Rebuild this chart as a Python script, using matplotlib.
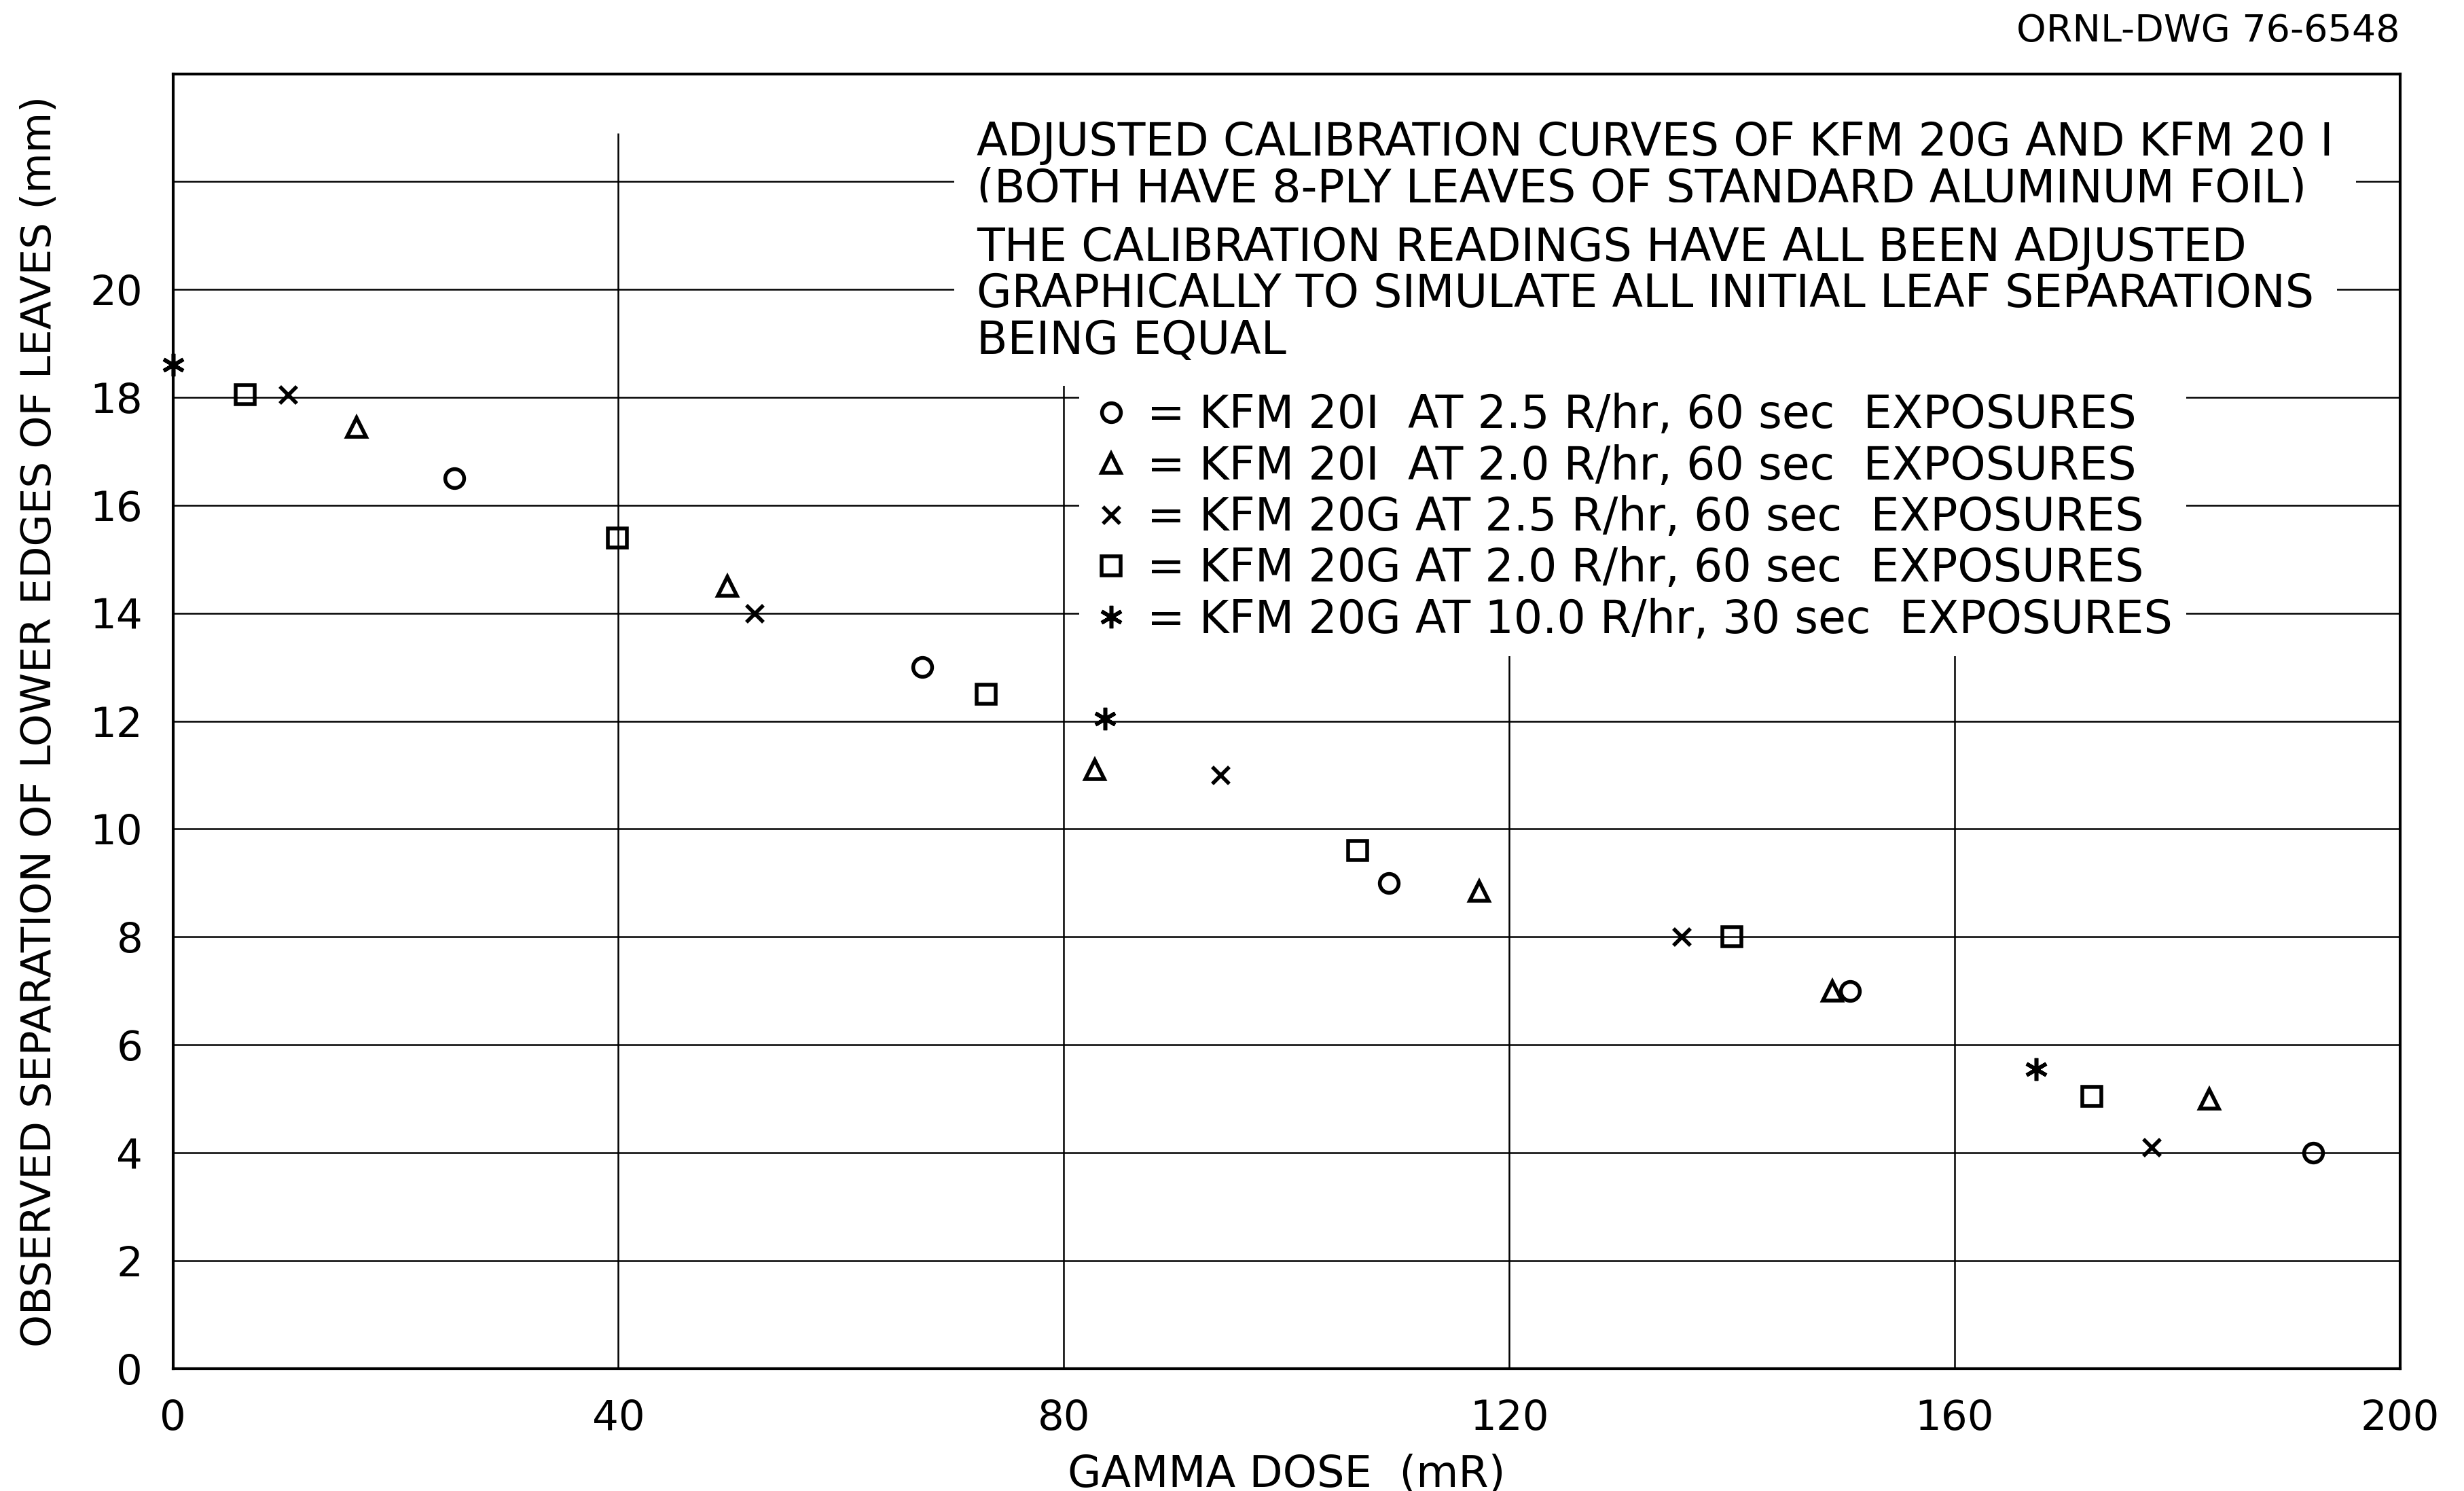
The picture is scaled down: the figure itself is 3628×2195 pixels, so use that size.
import matplotlib
matplotlib.use("Agg")
import matplotlib.pyplot as plt

plt.rcParams["font.family"] = ["DejaVu Sans"]

# KFM 20I at 2.5 R/hr, 60 sec
circ_x = [25.3, 67.3, 109.2, 150.6, 192.2]
circ_y = [16.5, 13.0, 9.0, 7.0, 4.0]
# KFM 20I at 2.0 R/hr, 60 sec
tri_x = [16.5, 49.8, 82.8, 117.3, 149.0, 182.9]
tri_y = [17.45, 14.5, 11.1, 8.85, 7.0, 5.0]
# KFM 20G at 2.5 R/hr, 60 sec
cross_x = [10.3, 52.2, 94.1, 135.5, 177.7]
cross_y = [18.05, 14.0, 11.0, 8.0, 4.1]
# KFM 20G at 2.0 R/hr, 60 sec
sq_x = [6.5, 39.9, 73.0, 106.4, 140.0, 172.3]
sq_y = [18.05, 15.4, 12.5, 9.6, 8.0, 5.05]
# KFM 20G at 10.0 R/hr, 30 sec
star_x = [0.0, 83.7, 167.3]
star_y = [18.6, 12.05, 5.55]

x_ticks = [0, 40, 80, 120, 160, 200]
y_ticks = [0, 2, 4, 6, 8, 10, 12, 14, 16, 18, 20]
y_grid = [2, 4, 6, 8, 10, 12, 14, 16, 18, 20, 22]

series_labels = [
    "= KFM 20I  AT 2.5 R/hr, 60 sec  EXPOSURES",
    "= KFM 20I  AT 2.0 R/hr, 60 sec  EXPOSURES",
    "= KFM 20G AT 2.5 R/hr, 60 sec  EXPOSURES",
    "= KFM 20G AT 2.0 R/hr, 60 sec  EXPOSURES",
    "= KFM 20G AT 10.0 R/hr, 30 sec  EXPOSURES",
]
note_top = "ADJUSTED CALIBRATION CURVES OF KFM 20G AND KFM 20 I\n(BOTH HAVE 8-PLY LEAVES OF STANDARD ALUMINUM FOIL)"
note_mid = ("THE CALIBRATION READINGS HAVE ALL BEEN ADJUSTED\n"
            "GRAPHICALLY TO SIMULATE ALL INITIAL LEAF SEPARATIONS\n"
            "BEING EQUAL")

FS = 24
fig = plt.figure(figsize=(18.14, 10.975), dpi=200)
ax = fig.add_axes([0.0702, 0.0822, 0.9038, 0.8683])
ax.set_xlim(0, 200)
ax.set_ylim(0, 24)

# grid
for yv in y_grid:
    ax.axhline(yv, color="black", lw=0.9, zorder=1)
ax.vlines(x_ticks[1:-1], 0, 22.9, color="black", lw=0.9, zorder=1)

mk = dict(ls="none", color="black", mfc="none", mew=2.0, zorder=4, clip_on=False)
h1, = ax.plot(circ_x, circ_y, marker="o", ms=10, **mk)
h2, = ax.plot(tri_x, tri_y, marker="^", ms=10, **mk)
h3, = ax.plot(cross_x, cross_y, marker="x", ms=9, **mk)
h4, = ax.plot(sq_x, sq_y, marker="s", ms=10, **mk)
h5, = ax.plot(star_x, star_y, marker=(6, 2, 0), ms=12, **mk)

leg = ax.legend([h1, h2, h3, h4, h5], series_labels, loc="upper left",
                bbox_to_anchor=(0.407, 0.764), fontsize=FS, frameon=True,
                handlelength=0.8, handletextpad=0.4, labelspacing=0.14,
                borderpad=0.3, borderaxespad=0.0)
leg.get_frame().set_facecolor("white")
leg.get_frame().set_edgecolor("none")
leg.get_frame().set_alpha(1.0)
leg.set_zorder(3)

box = dict(facecolor="white", edgecolor="none", pad=12)
ax.text(0.361, 0.964, note_top, transform=ax.transAxes, ha="left", va="top",
        fontsize=FS, linespacing=1.05, bbox=box, zorder=3)
ax.text(0.361, 0.883, note_mid, transform=ax.transAxes, ha="left", va="top",
        fontsize=FS, linespacing=1.05, bbox=box, zorder=3)

ax.set_xticks(x_ticks)
ax.set_yticks(y_ticks)
ax.tick_params(length=0, labelsize=22, pad=16)
for sp in ax.spines.values():
    sp.set_linewidth(1.5)
    sp.set_zorder(5)

ax.set_xlabel("GAMMA DOSE  (mR)", fontsize=23, labelpad=8)
ax.set_ylabel("OBSERVED SEPARATION OF LOWER EDGES OF LEAVES (mm)", fontsize=22, labelpad=16)

fig.text(0.974, 0.979, "ORNL-DWG 76-6548", ha="right", va="center", fontsize=20)

fig.savefig("out.png", dpi=200)
